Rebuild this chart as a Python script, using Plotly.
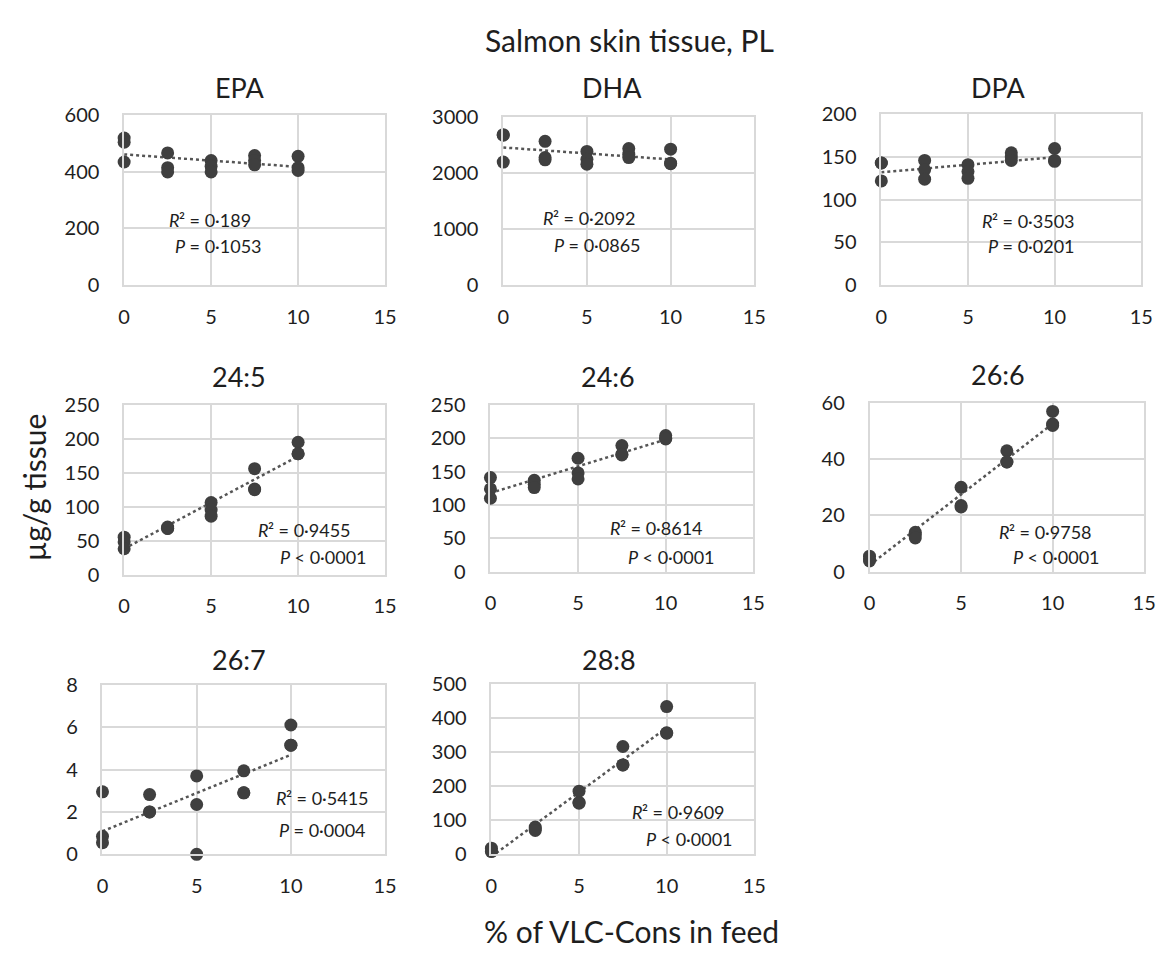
import numpy as np
import plotly.graph_objects as go

# ---------------- data ----------------
dose = [0, 0, 0, 2.5, 2.5, 2.5, 5, 5, 5, 7.5, 7.5, 7.5, 10, 10, 10]

panel_names = ["EPA", "DHA", "DPA", "24:5", "24:6", "26:6", "26:7", "28:8"]

epa = [520, 505, 435, 467, 415, 400, 440, 420, 400, 458, 440, 425, 455, 415, 405]
dha = [2690, 2680, 2200, 2570, 2280, 2240, 2390, 2250, 2160, 2440, 2340, 2280, 2430, 2170, 2180]
dpa = [143, 143, 122, 146, 135, 124, 141, 133, 125, 155, 150, 146, 160, 146, 145]
c24_5 = [55, 48, 38, 70, 68, 68, 106, 95, 86, 156, 126, 125, 195, 178, 178]
c24_6 = [141, 124, 110, 137, 131, 126, 170, 148, 139, 189, 176, 175, 204, 200, 199]
c26_6 = [5.5, 4.5, 3.8, 14, 13, 12, 30, 23.5, 23, 43, 39, 39, 57, 52.5, 52]
c26_7 = [2.95, 0.85, 0.55, 2.82, 2.0, 2.0, 3.7, 2.35, 0.0, 3.94, 2.9, 2.9, 6.1, 5.15, 5.15]
c28_8 = [18, 10, 8, 80, 74, 70, 185, 152, 150, 316, 262, 262, 433, 356, 355]

series = [epa, dha, dpa, c24_5, c24_6, c26_6, c26_7, c28_8]

y_max = [600, 3000, 200, 250, 250, 60, 8, 500]
y_step = [200, 1000, 50, 50, 50, 20, 2, 100]

r2_labels = ["² = 0·189", "² = 0·2092", "² = 0·3503", "² = 0·9455", "² = 0·8614", "² = 0·9758", "² = 0·5415", "² = 0·9609"]
p_labels = [" = 0·1053", " = 0·0865", " = 0·0201", " < 0·0001", " < 0·0001", " < 0·0001", " = 0·0004", " < 0·0001"]

x_ticks = [0, 5, 10, 15]

# --------------- layout geometry (pixels) ---------------
W, H = 1170, 956
plot_px = [
    (120, 385, 105, 279),
    (505, 760, 107, 279),
    (889, 1153, 104, 279),
    (120, 385, 402, 576),
    (492, 759, 402, 573),
    (877, 1156, 400, 573),
    (98, 385, 689, 863),
    (493, 760, 688, 863),
]
title_px = [(237, 76), (615, 76), (1007, 76), (237, 373), (611, 373), (1007, 371), (237, 663), (612, 663)]
# split point between italic letter and the rest, in data coordinates (R2 line, P line)
r2_pos = [(3.17, 231), (3.0, 1203), (6.36, 75), (8.26, 66), (7.42, 66), (7.63, 14.2), (9.72, 2.67), (8.6, 123)]
p_pos = [(3.51, 138), (3.65, 715), (6.76, 45.7), (9.51, 26), (8.43, 22), (8.39, 5.2), (9.88, 1.15), (9.38, 46)]

FONT = "Lato, Carlito, Open Sans, sans-serif"
MARK = "#3f3f3f"
GRID = "#d9d9d9"
TXT = "#1e1e1e"
ANN = 18

fig = go.Figure()
annotations = []


def split_label(letter, rest, x, y, xa, ya):
    annotations.append(dict(
        text=letter, x=x, y=y, xref=xa, yref=ya, showarrow=False, xanchor="right",
        yanchor="middle", borderpad=0, borderwidth=0, xshift=1,
        font=dict(family=FONT, size=ANN, color=TXT, style="italic"),
    ))
    annotations.append(dict(
        text=rest, x=x, y=y, xref=xa, yref=ya, showarrow=False, xanchor="left",
        yanchor="middle", borderpad=0, borderwidth=0, xshift=0,
        font=dict(family=FONT, size=ANN, color=TXT),
    ))


for i, (name, ys) in enumerate(zip(panel_names, series)):
    k = "" if i == 0 else str(i + 1)
    xa, ya = "x" + k, "y" + k
    x0, x1, y0, y1 = plot_px[i]
    fig.update_layout(**{
        "xaxis" + k: dict(
            domain=[x0 / W, x1 / W], anchor=ya, range=[0, 15], tickvals=x_ticks,
            showgrid=True, gridcolor=GRID, gridwidth=1.5, showline=True, linecolor=GRID,
            linewidth=1.5, mirror=True, zeroline=False, ticks="", ticklabelstandoff=13,
            tickfont=dict(family=FONT, size=20, color=TXT), fixedrange=True,
        ),
        "yaxis" + k: dict(
            domain=[1 - y1 / H, 1 - y0 / H], anchor=xa, range=[0, y_max[i]], dtick=y_step[i],
            showgrid=True, gridcolor=GRID, gridwidth=1.5, showline=True, linecolor=GRID,
            linewidth=1.5, mirror=True, zeroline=False, ticks="", ticklabelstandoff=19,
            tickfont=dict(family=FONT, size=20, color=TXT), fixedrange=True,
        ),
    })
    # trendline (least squares from the points)
    b, a = np.polyfit(dose, ys, 1)
    xl = np.array([0, 10])
    fig.add_trace(go.Scatter(
        x=xl, y=a + b * xl, xaxis=xa, yaxis=ya, mode="lines",
        line=dict(color="#555555", width=2.5, dash="dot"), showlegend=False, hoverinfo="skip",
    ))
    fig.add_trace(go.Scatter(
        x=dose, y=ys, xaxis=xa, yaxis=ya, mode="markers", cliponaxis=False,
        marker=dict(color=MARK, size=13, line=dict(width=0)), showlegend=False, name=name,
    ))
    tx, ty = title_px[i]
    annotations.append(dict(
        text=name, x=tx / W, y=1 - ty / H, xref="paper", yref="paper", showarrow=False,
        xanchor="center", yanchor="middle", font=dict(family=FONT, size=27, color=TXT),
    ))
    split_label("R", r2_labels[i], r2_pos[i][0], r2_pos[i][1], xa, ya)
    split_label("P", p_labels[i], p_pos[i][0], p_pos[i][1], xa, ya)

annotations.append(dict(
    text="Salmon skin tissue, PL", x=633 / W, y=1 - 28 / H, xref="paper", yref="paper",
    showarrow=False, xanchor="center", yanchor="middle", font=dict(family=FONT, size=30, color=TXT),
))
annotations.append(dict(
    text="µg/g tissue", x=28 / W, y=1 - 487 / H, xref="paper", yref="paper", textangle=-90,
    showarrow=False, xanchor="center", yanchor="middle", font=dict(family=FONT, size=30, color=TXT),
))
annotations.append(dict(
    text="% of VLC-Cons in feed", x=635 / W, y=1 - 942 / H, xref="paper", yref="paper",
    showarrow=False, xanchor="center", yanchor="middle", font=dict(family=FONT, size=30, color=TXT),
))

fig.update_layout(
    width=W, height=H, margin=dict(l=0, r=0, t=0, b=0),
    paper_bgcolor="white", plot_bgcolor="white", annotations=annotations,
    font=dict(family=FONT, color=TXT),
)

fig.write_html(
    "out.html",
    config={"displayModeBar": False},
    post_script="document.body.style.margin='0';document.body.style.overflow='hidden';",
)
